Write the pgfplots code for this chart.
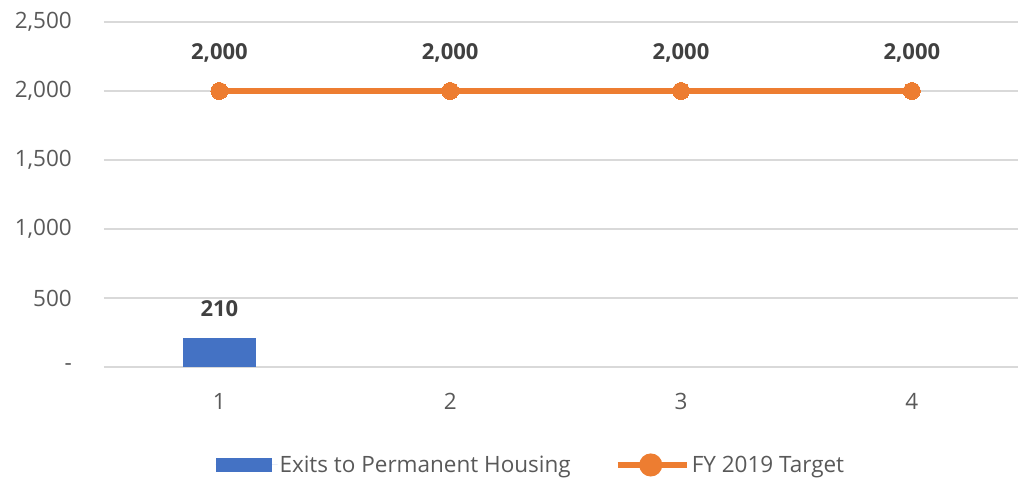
\documentclass[border=0pt]{standalone}
\usepackage{pgfplots}
\pgfplotsset{compat=1.18}
\usepackage{fontspec}
\setmainfont{Open Sans}
\definecolor{barblue}{HTML}{4472C4}
\definecolor{lineorange}{HTML}{ED7D31}
\definecolor{tickgray}{HTML}{595959}
\definecolor{gridgray}{HTML}{D9D9D9}
\definecolor{labelgray}{HTML}{404040}
\begin{document}
\begin{tikzpicture}[x=1pt,y=1pt]
\useasboundingbox (-104,-113) rectangle (914,367);
\begin{axis}[
  at={(0,0)}, anchor=south west,
  scale only axis, width=914pt, height=345pt,
  xmin=0.5, xmax=4.46, ymin=0, ymax=2500,
  axis line style={draw=none},
  tick style={draw=none},
  ymajorgrids, major grid style={gridgray, line width=2pt},
  xtick={1,2,3,4}, ytick={0,500,1000,1500,2000,2500},
  yticklabels={-,500,{1,000},{1,500},{2,000},{2,500}},
  /pgf/number format/assume math mode=true,
  /pgf/number format/1000 sep={,},
  tick label style={font=\fontsize{22.5}{26}\selectfont, text=tickgray, inner sep=0pt},
  yticklabel style={anchor=east, xshift=-32pt},
  xticklabel style={anchor=north, yshift=-26pt},
  clip=false,
  legend style={at={(0.467,-0.284)}, anchor=center, draw=none, fill=none,
    font=\fontsize{22.5}{26}\selectfont, text=tickgray, legend columns=2,
    /tikz/every even column/.append style={column sep=42pt}, inner sep=0pt},
  legend cell align=left,
]
\addplot[ybar, bar width=73pt, fill=barblue, draw=none,
  nodes near coords,
  every node near coord/.style={font=\bfseries\fontsize{22}{26}\selectfont, text=labelgray, anchor=south, inner sep=0pt, yshift=21pt},
  legend image code/.code={\fill[barblue] (0pt,-7pt) rectangle (56pt,7pt); \path (0pt,0pt) -- (62pt,0pt);}
] coordinates {(1,210)};
\addlegendentry{Exits to Permanent Housing}
\addplot[lineorange, line width=6pt, mark=*, mark size=8.5pt, mark options={solid, fill=lineorange, draw=lineorange, line width=0pt},
  nodes near coords,
  every node near coord/.style={font=\bfseries\fontsize{22}{26}\selectfont, text=labelgray, anchor=south, inner sep=0pt, yshift=29pt},
  legend image code/.code={\draw[lineorange, line width=6pt] (0pt,0pt) -- (66pt,0pt); \fill[lineorange] (33pt,0pt) circle (8.5pt); \path (0pt,0pt) -- (69pt,0pt);}
] coordinates {(1,2000) (2,2000) (3,2000) (4,2000)};
\addlegendentry{FY 2019 Target}
\end{axis}
\end{tikzpicture}
\end{document}
